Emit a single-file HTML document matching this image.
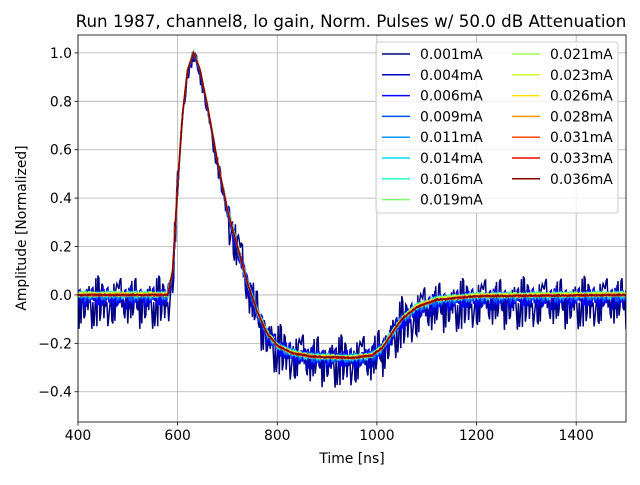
<!DOCTYPE html>
<html><head><meta charset="utf-8"><style>
body{margin:0;background:#fff;}
svg text{font-family:"DejaVu Sans","Liberation Sans",sans-serif;}
</style></head><body>
<svg id="c" width="640" height="480" viewBox="0 0 640 480"></svg>
<script>
const pulseTimes=[400,580,590,600,610,620,632,645,660,680,700,720,740,760,780,800,830,870,950,990,1010,1030,1050,1080,1120,1200,1500];
const pulseValues=[0,0,0.1,0.45,0.75,0.93,1.0,0.93,0.78,0.55,0.35,0.2,0.05,-0.07,-0.16,-0.21,-0.24,-0.255,-0.26,-0.25,-0.22,-0.16,-0.1,-0.05,-0.02,-0.005,0];
const labels=["0.001mA","0.004mA","0.006mA","0.009mA","0.011mA","0.014mA","0.016mA","0.019mA","0.021mA","0.023mA","0.026mA","0.028mA","0.031mA","0.033mA","0.036mA"];
const colors=["#00007f","#0000c4","#0000ff","#0050ff","#0094ff","#00dcfe","#29ffce","#7dff7a","#a0ff56","#ceff29","#ffe500","#ff9400","#ff4800","#f10800","#800000"];
const noiseScale=[0.11,0.05,0.035,0.022,0.016,0.012,0.01,0.008,0.007,0.006,0.005,0.005,0.004,0.004,0.003];
const baseOffset=[-0.03,-0.015,-0.01,-0.005,0,0,0.005,0.005,0.005,0.005,0,0,0,0,0];
const noise=[0.3,-0.8,0.5,-0.2,0.9,-0.6,0.1,-1.0,0.7,-0.3,0.4,-0.9,0.8,-0.1,0.2,-0.7,0.6,-0.4,1.0,-0.5,0.0,-0.8,0.5,0.3,-0.6,0.9,-0.2,-0.9,0.4,0.7,-0.3,0.1,-0.7,0.8,-0.5,0.2,0.6,-1.0,0.3,-0.4,0.9,-0.1,-0.6,0.5,0.0,-0.8,0.7,-0.2,0.4,-0.5,0.8,-0.9,0.1,0.6,-0.3,-0.7,0.2,0.9,-0.4,0.5,-0.6];
const xTicks=[400,600,800,1000,1200,1400];
const yTicks=[-0.4,-0.2,0.0,0.2,0.4,0.6,0.8,1.0];
const L=78,R=626,T=35,B=422,X0=400,X1=1500,Y0=-0.525,Y1=1.074;
const sx=v=>L+(v-X0)/(X1-X0)*(R-L), sy=v=>B-(v-Y0)/(Y1-Y0)*(B-T);
const svg=document.getElementById('c'),NS='http://www.w3.org/2000/svg';
function mk(t,a,p){const e=document.createElementNS(NS,t);for(const k in a)e.setAttribute(k,a[k]);(p||svg).appendChild(e);return e;}
function pulse(t){for(let i=1;i<pulseTimes.length;i++){if(t<=pulseTimes[i]){const f=(t-pulseTimes[i-1])/(pulseTimes[i]-pulseTimes[i-1]);return pulseValues[i-1]+f*(pulseValues[i]-pulseValues[i-1]);}}return 0;}
const grid=mk('g',{});


xTicks.forEach(v=>{mk('line',{x1:sx(v),x2:sx(v),y1:T,y2:B,stroke:'#b0b0b0','stroke-width':0.8},grid);});
yTicks.forEach(v=>{mk('line',{x1:L,x2:R,y1:sy(v),y2:sy(v),stroke:'#b0b0b0','stroke-width':0.8},grid);});
const clip=mk('clipPath',{id:'cp'});mk('rect',{x:L,y:T,width:R-L,height:B-T},clip);
const plot=mk('g',{'clip-path':'url(#cp)'});


labels.forEach((lab,s)=>{let d='';let i=0;for(let t=400;t<=1500;t+=2,i++){const k=(t>600&&t<700)?0.35:1;const off=(t<590||t>1050)?baseOffset[s]:baseOffset[s]*0.5;const n=noise[(i*7+s*13)%noise.length]*noiseScale[s]*k;const v=pulse(t)+off+n;d+=(i?'L':'M')+sx(t).toFixed(1)+' '+sy(v).toFixed(1);}
const p=mk('path',{d:d,fill:'none',stroke:colors[s],'stroke-width':1.5},plot);

});
const ax=mk('rect',{x:L,y:T,width:R-L,height:B-T,fill:'none',stroke:'#000','stroke-width':0.8});


xTicks.forEach(v=>{mk('line',{x1:sx(v),x2:sx(v),y1:B,y2:B+3.5,stroke:'#000','stroke-width':0.8});const t=mk('text',{x:sx(v),y:B+18,'text-anchor':'middle','font-size':13.9});t.textContent=v;});
yTicks.forEach(v=>{mk('line',{x1:L-3.5,x2:L,y1:sy(v),y2:sy(v),stroke:'#000','stroke-width':0.8});const t=mk('text',{x:L-6,y:sy(v)+5,'text-anchor':'end','font-size':13.9});t.textContent=(v<0?'\u2212':'')+Math.abs(v).toFixed(1);});
let t=mk('text',{x:352,y:463,'text-anchor':'middle','font-size':13.9});t.textContent='Time [ns]';


t=mk('text',{x:26,y:228,'text-anchor':'middle','font-size':13.9,transform:'rotate(-90 26 228)'});t.textContent='Amplitude [Normalized]';


t=mk('text',{x:351,y:27,'text-anchor':'middle','font-size':16.7});t.textContent='Run 1987, channel8, lo gain, Norm. Pulses w/ 50.0 dB Attenuation';


const lg=mk('g',{});


mk('rect',{x:376,y:42,width:242,height:171,rx:3,fill:'#fff','fill-opacity':0.8,stroke:'#ccc'},lg);
labels.forEach((lab,s)=>{const col=s<8?0:1,row=s<8?s:s-8;const x=col?512:382,y=54+row*20.8;
const e=mk('g',{},lg);


mk('line',{x1:x,x2:x+28,y1:y,y2:y,stroke:colors[s],'stroke-width':1.5},e);
const tx=mk('text',{x:x+38,y:y+5,'font-size':13.9},e);tx.textContent=lab;});
</script>
</body></html>
